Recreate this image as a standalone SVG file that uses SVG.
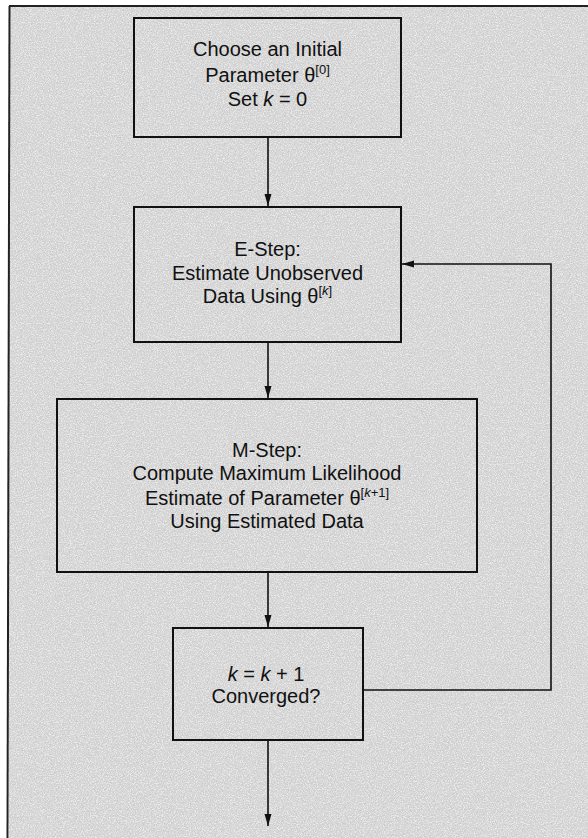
<svg xmlns="http://www.w3.org/2000/svg" width="588" height="838" viewBox="0 0 588 838">
  <style>
    .box { fill: none; stroke: #111; stroke-width: 2; }
    .lbl { font-family: "Liberation Sans", Arial, sans-serif; font-size: 20px; fill: #111; text-anchor: middle; }
    .sup { font-size: 13px; }
    .it { font-style: italic; }
    .conn { fill: none; stroke: #111; stroke-width: 1.6; }
    .frame { fill: none; stroke: #222; stroke-width: 2; }
  </style>
  <defs>
    <marker id="arr" markerUnits="userSpaceOnUse" markerWidth="13" markerHeight="8" refX="12" refY="3.5" orient="auto">
      <path d="M0,0 L12,3.5 L0,7 z" fill="#111"/>
    </marker>
    <filter id="grain" x="0" y="0" width="100%" height="100%">
      <feTurbulence type="fractalNoise" baseFrequency="0.85" numOctaves="2" seed="7" result="n"/>
      <feColorMatrix in="n" type="matrix" values="0 0 0 0 0.4  0 0 0 0 0.4  0 0 0 0 0.4  1 0 0 0 0" result="a"/>
      <feComponentTransfer in="a" result="d">
        <feFuncA type="discrete" tableValues="0 0.1 0.35 0.5 0.6"/>
      </feComponentTransfer>
      <feFlood flood-color="#ececec" result="w"/>
      <feComposite in="d" in2="w" operator="over"/>
    </filter>
  </defs>

  <rect x="0" y="0" width="588" height="838" fill="#ffffff"/>
  <rect x="9" y="6" width="579" height="832" fill="#d8d8d8" filter="url(#grain)"/>
  <g id="frame">
    <line class="frame" x1="9" y1="6" x2="588" y2="6"/>
    <line class="frame" x1="9.5" y1="6" x2="7.5" y2="838"/>
  </g>

  <g id="connectors">
    <line class="conn" x1="268" y1="138" x2="268" y2="206" marker-end="url(#arr)"/>
    <line class="conn" x1="268" y1="343" x2="268" y2="398" marker-end="url(#arr)"/>
    <line class="conn" x1="268" y1="573" x2="268" y2="627" marker-end="url(#arr)"/>
    <line class="conn" x1="268" y1="741" x2="268" y2="826" marker-end="url(#arr)"/>
    <polyline class="conn" points="364,690 551,690 551,264 402,264" marker-end="url(#arr)"/>
  </g>

  <g id="init">
    <rect class="box" x="134" y="18" width="267" height="119"/>
    <text class="lbl" x="267.5" y="56">Choose an Initial</text>
    <text class="lbl" x="267.5" y="82">Parameter θ<tspan class="sup" dy="-8">[0]</tspan></text>
    <text class="lbl" x="267.5" y="106">Set <tspan class="it">k</tspan> = 0</text>
  </g>

  <g id="estep">
    <rect class="box" x="134" y="207" width="267" height="135"/>
    <text class="lbl" x="267.5" y="256">E-Step:</text>
    <text class="lbl" x="267.5" y="280">Estimate Unobserved</text>
    <text class="lbl" x="267.5" y="303">Data Using θ<tspan class="sup" dy="-8">[<tspan class="it">k</tspan>]</tspan></text>
  </g>

  <g id="mstep">
    <rect class="box" x="57" y="399" width="420" height="173"/>
    <text class="lbl" x="267" y="457">M-Step:</text>
    <text class="lbl" x="267" y="480">Compute Maximum Likelihood</text>
    <text class="lbl" x="267" y="505">Estimate of Parameter θ<tspan class="sup" dy="-8">[<tspan class="it">k</tspan>+1]</tspan></text>
    <text class="lbl" x="267" y="528">Using Estimated Data</text>
  </g>

  <g id="converge">
    <rect class="box" x="173" y="628" width="190" height="112"/>
    <text class="lbl" x="266" y="681"><tspan class="it">k</tspan> = <tspan class="it">k</tspan> + 1</text>
    <text class="lbl" x="266" y="703">Converged?</text>
  </g>
</svg>
